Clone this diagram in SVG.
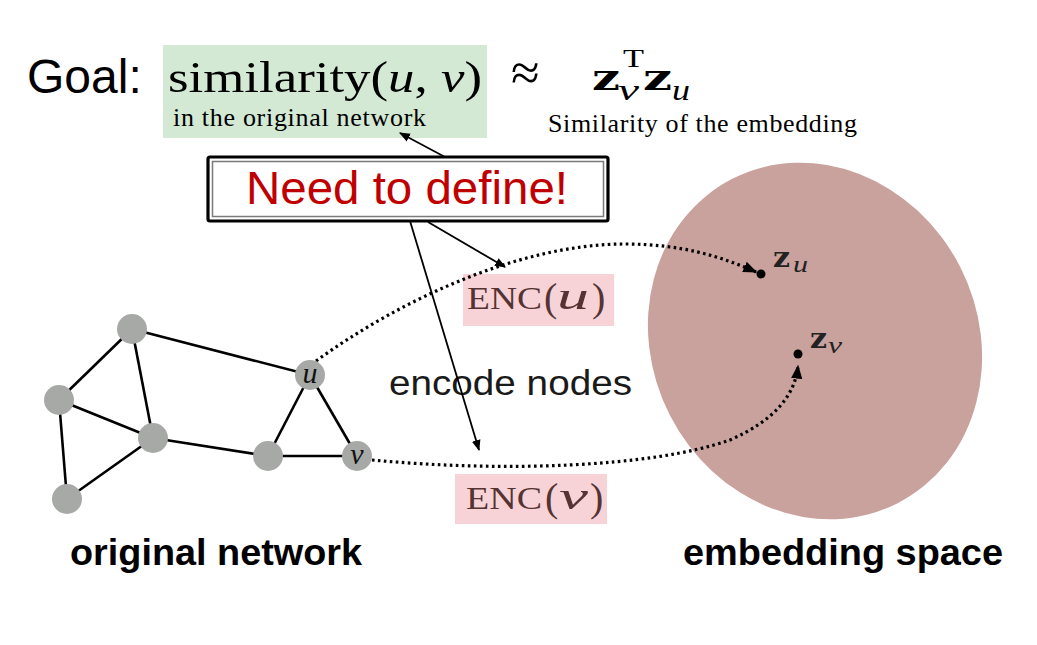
<svg xmlns="http://www.w3.org/2000/svg" width="1037" height="645" viewBox="0 0 1037 645">
<style>
.sans{font-family:"Liberation Sans",Arial,sans-serif}
.serif{font-family:"Liberation Serif","Times New Roman",serif}
.bz{font-family:"DejaVu Serif","Liberation Serif",serif;font-weight:bold}
.it{font-style:italic}
.edge{stroke:#000;stroke-width:2.6;fill:none}
.gnode{fill:#a7a9a7}
.dots{stroke:#000;stroke-width:3.2;fill:none;stroke-dasharray:2.6 3.4}
.arr{stroke:#000;stroke-width:1.8;fill:none}
.enc{fill:#f7d3d8}
.enct{fill:#553333}
.lbl{font-size:36px;font-weight:bold;fill:#000}
</style>
<defs>
<marker id="ah" viewBox="0 0 10 10" refX="9" refY="5" markerWidth="11" markerHeight="11" markerUnits="userSpaceOnUse" orient="auto">
<path d="M0,1 L10,5 L0,9 Z" fill="#000"/>
</marker>
<marker id="ahd" viewBox="0 0 10 10" refX="9" refY="5" markerWidth="14" markerHeight="14" markerUnits="userSpaceOnUse" orient="auto">
<path d="M0,1 L10,5 L0,9 Z" fill="#000"/>
</marker>
</defs>
<rect width="1037" height="645" fill="#fff"/>

<g id="embedding-space">
<ellipse cx="815" cy="341" rx="163" ry="182" transform="rotate(-27 815 341)" fill="#c9a19d"/>
</g>

<g id="goal">
<text class="sans" x="27" y="93" font-size="48">Goal:</text>
</g>
<g id="similarity">
<rect x="163" y="45" width="324" height="93" fill="#d3e9d4"/>
<text class="serif" x="168" y="92" font-size="44" textLength="314" lengthAdjust="spacingAndGlyphs">similarity(<tspan class="it">u</tspan>, <tspan class="it">v</tspan>)</text>
<text class="serif" x="173" y="126" font-size="26" textLength="253" lengthAdjust="spacing">in the original  network</text>
</g>
<g id="approx">
<text class="serif" x="511" y="90" font-size="52">≈</text>
</g>
<g id="embedding-similarity">
<text class="bz" x="592" y="90" font-size="35" textLength="28" lengthAdjust="spacingAndGlyphs">z</text>
<text class="serif it" x="618" y="100" font-size="30" textLength="21" lengthAdjust="spacingAndGlyphs">v</text>
<text class="serif" x="623" y="67" font-size="26" textLength="21" lengthAdjust="spacingAndGlyphs">T</text>
<text class="bz" x="643" y="90" font-size="35" textLength="29" lengthAdjust="spacingAndGlyphs">z</text>
<text class="serif it" x="672" y="100" font-size="30" textLength="18" lengthAdjust="spacingAndGlyphs">u</text>
<text class="serif" x="548" y="132" font-size="26" textLength="309" lengthAdjust="spacing">Similarity  of the embedding</text>
</g>

<g id="need-to-define">
<rect x="208" y="157" width="400" height="64" rx="2" fill="#fff" stroke="#000" stroke-width="3.2"/>
<rect x="212.5" y="161.5" width="391" height="55" fill="none" stroke="#7a7a7a" stroke-width="1.5"/>
<text class="sans" x="246" y="204" font-size="47" fill="#c00000" textLength="322" lengthAdjust="spacingAndGlyphs">Need to define!</text>
</g>

<g id="enc-u">
<rect class="enc" x="463" y="274" width="151" height="52"/>
<text class="serif enct" x="467" y="309" font-size="32" textLength="75" lengthAdjust="spacingAndGlyphs">ENC</text>
<text class="serif enct" x="544" y="311" font-size="40">(</text>
<text class="serif enct it" x="557" y="309" font-size="37" textLength="32" lengthAdjust="spacingAndGlyphs">u</text>
<text class="serif enct" x="592" y="311" font-size="40">)</text>
</g>
<g id="enc-v">
<rect class="enc" x="455" y="474" width="152" height="50"/>
<text class="serif enct" x="466" y="509" font-size="32" textLength="76" lengthAdjust="spacingAndGlyphs">ENC</text>
<text class="serif enct" x="545" y="511" font-size="40">(</text>
<text class="serif enct it" x="559" y="509" font-size="37" textLength="29" lengthAdjust="spacingAndGlyphs">v</text>
<text class="serif enct" x="590" y="511" font-size="40">)</text>
</g>

<g id="encode-nodes">
<text class="sans" x="389" y="395" font-size="35" fill="#1a1a1a" textLength="243" lengthAdjust="spacingAndGlyphs">encode nodes</text>
</g>

<g id="connectors">
<line class="edge" x1="132" y1="329" x2="59" y2="400"/>
<line class="edge" x1="132" y1="329" x2="153" y2="438"/>
<line class="edge" x1="132" y1="329" x2="310" y2="375"/>
<line class="edge" x1="59" y1="400" x2="153" y2="438"/>
<line class="edge" x1="59" y1="400" x2="67" y2="499"/>
<line class="edge" x1="67" y1="499" x2="153" y2="438"/>
<line class="edge" x1="153" y1="438" x2="268" y2="456"/>
<line class="edge" x1="268" y1="456" x2="310" y2="375"/>
<line class="edge" x1="268" y1="456" x2="357" y2="456"/>
<line class="edge" x1="310" y1="375" x2="357" y2="456"/>
<line class="arr" x1="445" y1="157" x2="400" y2="133" marker-end="url(#ah)"/>
<line class="arr" x1="428" y1="222" x2="505" y2="267" marker-end="url(#ah)"/>
<line class="arr" x1="410" y1="221" x2="479" y2="450" marker-end="url(#ah)"/>
<path class="dots" d="M316,361 C400,300 520,244 625,244 C680,244 720,256 756,272" marker-end="url(#ahd)"/>
<path class="dots" d="M372,460 C500,472 650,468 730,440 C775,420 795,395 798,366" marker-end="url(#ahd)"/>
</g>

<g id="node-a"><circle class="gnode" cx="132" cy="329" r="15"/></g>
<g id="node-b"><circle class="gnode" cx="59" cy="400" r="15"/></g>
<g id="node-c"><circle class="gnode" cx="153" cy="438" r="15"/></g>
<g id="node-d"><circle class="gnode" cx="67" cy="499" r="15"/></g>
<g id="node-e"><circle class="gnode" cx="268" cy="456" r="15"/></g>
<g id="node-u"><circle class="gnode" cx="310" cy="375" r="15"/><text class="serif it" x="310" y="383" font-size="30" text-anchor="middle" fill="#111">u</text></g>
<g id="node-v"><circle class="gnode" cx="357" cy="456" r="15"/><text class="serif it" x="357" y="464" font-size="30" text-anchor="middle" fill="#111">v</text></g>

<g id="z-u">
<circle cx="761" cy="274" r="4.5" fill="#000"/>
<text class="bz" x="773" y="267" font-size="28" fill="#222" textLength="17" lengthAdjust="spacingAndGlyphs">z</text>
<text class="serif it" x="793" y="272" font-size="24" fill="#222" textLength="15" lengthAdjust="spacingAndGlyphs">u</text>
</g>
<g id="z-v">
<circle cx="798" cy="354" r="4.5" fill="#000"/>
<text class="bz" x="810" y="348" font-size="28" fill="#222" textLength="17" lengthAdjust="spacingAndGlyphs">z</text>
<text class="serif it" x="828" y="353" font-size="24" fill="#222" textLength="14" lengthAdjust="spacingAndGlyphs">v</text>
</g>

<g id="labels">
<text class="sans lbl" x="70" y="565" textLength="292" lengthAdjust="spacingAndGlyphs">original network</text>
<text class="sans lbl" x="683" y="565" textLength="320" lengthAdjust="spacingAndGlyphs">embedding space</text>
</g>
</svg>
